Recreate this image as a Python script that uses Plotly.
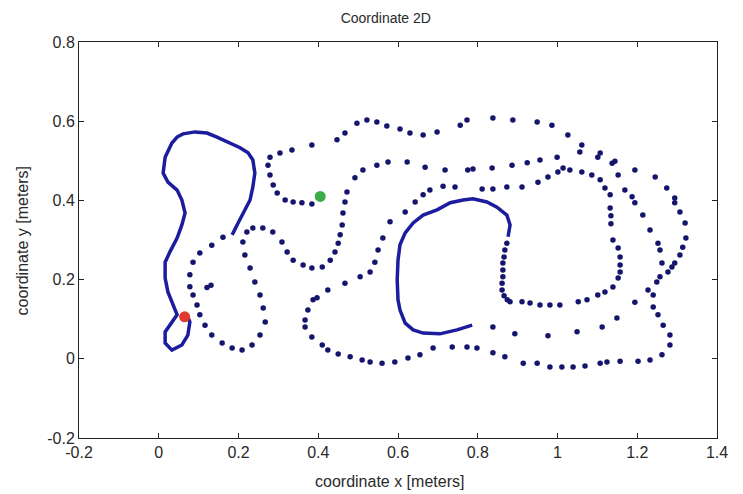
import plotly.graph_objects as go

# Dense (slow) stretch of the trajectory near the start point
left_loop_x = [0.073, 0.078, 0.073, 0.058, 0.033, 0.016, 0.016, 0.033, 0.046, 0.036, 0.023, 0.016,
               0.016, 0.028, 0.046, 0.058, 0.066, 0.058, 0.046, 0.023, 0.011, 0.016, 0.033, 0.046,
               0.061, 0.091, 0.121, 0.146, 0.174, 0.204, 0.224, 0.236, 0.241, 0.236, 0.229, 0.211,
               0.199, 0.184]
left_loop_y = [0.106, 0.093, 0.060, 0.035, 0.022, 0.040, 0.068, 0.093, 0.111, 0.136, 0.169, 0.204,
               0.244, 0.270, 0.305, 0.338, 0.368, 0.401, 0.426, 0.446, 0.469, 0.509, 0.545, 0.560,
               0.568, 0.573, 0.570, 0.560, 0.548, 0.533, 0.520, 0.502, 0.469, 0.434, 0.401, 0.368,
               0.343, 0.313]

# Dense (slow) inner loop
inner_loop_x = [0.876, 0.881, 0.873, 0.848, 0.823, 0.788, 0.763, 0.731, 0.698, 0.663, 0.638, 0.618,
                0.605, 0.600, 0.598, 0.600, 0.605, 0.618, 0.638, 0.663, 0.705, 0.748, 0.786]
inner_loop_y = [0.308, 0.338, 0.363, 0.383, 0.396, 0.404, 0.401, 0.394, 0.376, 0.363, 0.343, 0.318,
                0.288, 0.249, 0.199, 0.149, 0.123, 0.090, 0.073, 0.065, 0.063, 0.073, 0.085]

# Sparse samples of the trajectory
track_x = [0.161, 0.133, 0.103, 0.086, 0.078, 0.078, 0.086, 0.096, 0.103, 0.116, 0.133, 0.159,
           0.184, 0.209, 0.234, 0.254, 0.267, 0.262, 0.254, 0.241, 0.229, 0.216, 0.211, 0.221,
           0.236, 0.261, 0.286, 0.309, 0.322, 0.337, 0.362, 0.384, 0.410, 0.430, 0.442, 0.450,
           0.455, 0.460, 0.462, 0.467, 0.472, 0.492, 0.512, 0.547, 0.575, 0.623, 0.668, 0.718,
           0.775, 0.788, 0.836, 0.886, 0.924, 0.956, 0.999, 1.056, 1.101, 1.144, 1.152, 1.169,
           1.187, 1.194, 1.214, 1.232, 1.252, 1.257, 1.262, 1.257, 1.240, 1.240, 1.252, 1.265,
           1.282, 1.282, 1.262, 1.232, 1.202, 1.157, 1.124, 1.107, 1.069, 1.039, 1.011, 0.981,
           0.949, 0.914, 0.868, 0.838, 0.798, 0.773, 0.736, 0.688, 0.655, 0.625, 0.592, 0.560,
           0.530, 0.510, 0.480, 0.450, 0.424, 0.410, 0.384, 0.367, 0.367, 0.374, 0.387, 0.397,
           0.424, 0.467, 0.505, 0.530, 0.542, 0.550, 0.562, 0.580, 0.618, 0.643, 0.663, 0.680,
           0.713, 0.743, 0.811, 0.838, 0.873, 0.911, 0.951, 0.976, 1.001, 1.014, 1.031, 1.061,
           1.086, 1.107, 1.119, 1.132, 1.132, 1.134, 1.134, 1.139, 1.152, 1.157, 1.157, 1.157,
           1.152, 1.139, 1.119, 1.101, 1.074, 1.052, 1.006, 0.981, 0.956, 0.931, 0.911, 0.881,
           0.874, 0.866, 0.861, 0.861, 0.863, 0.863, 0.863, 0.866, 0.868, 0.873,
           0.838, 0.893, 0.976, 1.049, 1.112, 1.149, 1.194, 1.227, 1.249, 1.277, 1.287, 1.294,
           1.307, 1.314, 1.322, 1.320, 1.307, 1.294, 1.294, 1.274, 1.245, 1.194, 1.137, 1.107,
           1.061, 1.026, 0.986, 0.949, 0.888, 0.838, 0.773, 0.756, 0.698, 0.663, 0.630, 0.605,
           0.572, 0.547, 0.522, 0.497, 0.467, 0.447, 0.384, 0.334, 0.304, 0.279, 0.274, 0.279,
           0.287, 0.297, 0.317, 0.337, 0.359, 0.384,
           0.121, 0.131]
track_y = [0.307, 0.287, 0.267, 0.244, 0.212, 0.182, 0.161, 0.136, 0.111, 0.085, 0.060, 0.040,
           0.027, 0.022, 0.035, 0.060, 0.093, 0.128, 0.161, 0.194, 0.229, 0.262, 0.295, 0.320,
           0.330, 0.330, 0.320, 0.295, 0.270, 0.249, 0.237, 0.229, 0.232, 0.249, 0.270, 0.292,
           0.313, 0.338, 0.368, 0.396, 0.421, 0.457, 0.477, 0.489, 0.497, 0.497, 0.484, 0.477,
           0.477, 0.479, 0.482, 0.489, 0.495, 0.502, 0.509, 0.522, 0.509, 0.499, 0.464, 0.426,
           0.409, 0.394, 0.363, 0.325, 0.292, 0.275, 0.242, 0.207, 0.161, 0.131, 0.111, 0.085,
           0.060, 0.035, 0.010, -0.003, -0.006, -0.006, -0.008, -0.011, -0.018, -0.021, -0.021, -0.021,
           -0.011, -0.011, 0.005, 0.015, 0.027, 0.030, 0.030, 0.027, 0.010, 0.002, -0.008, -0.011,
           -0.008, -0.003, 0.005, 0.012, 0.022, 0.035, 0.055, 0.080, 0.098, 0.123, 0.149, 0.154,
           0.174, 0.191, 0.207, 0.219, 0.244, 0.275, 0.305, 0.346, 0.371, 0.396, 0.414, 0.426,
           0.436, 0.434, 0.429, 0.429, 0.434, 0.434, 0.446, 0.459, 0.472, 0.482, 0.477, 0.472,
           0.464, 0.452, 0.431, 0.414, 0.381, 0.361, 0.341, 0.300, 0.280, 0.257, 0.237, 0.219,
           0.204, 0.181, 0.169, 0.161, 0.149, 0.144, 0.136, 0.136, 0.136, 0.141, 0.144, 0.144,
           0.149, 0.159, 0.174, 0.191, 0.207, 0.224, 0.242, 0.257, 0.275, 0.292,
           0.080, 0.063, 0.058, 0.068, 0.080, 0.103, 0.143, 0.174, 0.194, 0.219, 0.232, 0.242,
           0.262, 0.282, 0.305, 0.343, 0.371, 0.394, 0.406, 0.431, 0.459, 0.477, 0.494, 0.520,
           0.540, 0.565, 0.590, 0.598, 0.603, 0.608, 0.603, 0.590, 0.573, 0.565, 0.570, 0.580,
           0.588, 0.598, 0.603, 0.595, 0.570, 0.553, 0.540, 0.527, 0.520, 0.509, 0.489, 0.464,
           0.439, 0.419, 0.401, 0.396, 0.394, 0.391,
           0.180, 0.186]

start_x = [0.065]
start_y = [0.106]
end_x = [0.405]
end_y = [0.410]

x_ticks = [-0.2, 0, 0.2, 0.4, 0.6, 0.8, 1.0, 1.2, 1.4]
x_tick_text = ["-0.2", "0", "0.2", "0.4", "0.6", "0.8", "1", "1.2", "1.4"]
y_ticks = [-0.2, 0, 0.2, 0.4, 0.6, 0.8]
y_tick_text = ["-0.2", "0", "0.2", "0.4", "0.6", "0.8"]

navy = "#1c1c9e"
font_family = "Liberation Sans, Arial, sans-serif"
text_color = "#2a2a2a"

fig = go.Figure()
fig.add_trace(go.Scatter(x=left_loop_x, y=left_loop_y, mode="lines",
                         line=dict(color=navy, width=3.5), hoverinfo="skip"))
fig.add_trace(go.Scatter(x=inner_loop_x, y=inner_loop_y, mode="lines",
                         line=dict(color=navy, width=3.5), hoverinfo="skip"))
fig.add_trace(go.Scatter(x=track_x, y=track_y, mode="markers",
                         marker=dict(color="#15156e", size=5.5, symbol="circle")))
fig.add_trace(go.Scatter(x=start_x, y=start_y, mode="markers",
                         marker=dict(color="#e03a2e", size=11)))
fig.add_trace(go.Scatter(x=end_x, y=end_y, mode="markers",
                         marker=dict(color="#3aad48", size=11)))

axis_common = dict(
    showgrid=False, zeroline=False, showline=True, linecolor="#222", linewidth=1,
    mirror="ticks", ticks="inside", ticklen=5, tickcolor="#222",
    tickfont=dict(family=font_family, size=16, color=text_color),
)

fig.update_layout(
    width=735, height=486,
    margin=dict(l=71, r=26, t=34, b=56),
    paper_bgcolor="white", plot_bgcolor="white",
    showlegend=False,
    title=dict(text="Coordinate 2D", x=0.514, xanchor="center", y=0.979, yanchor="middle",
               font=dict(family=font_family, size=14, color=text_color)),
    xaxis=dict(range=[-0.2, 1.4], tickvals=x_ticks, ticktext=x_tick_text,
               automargin=False, **axis_common),
    yaxis=dict(range=[-0.2, 0.8], tickvals=y_ticks, ticktext=y_tick_text,
               automargin=False, **axis_common),
    annotations=[
        dict(text="coordinate x [meters]", xref="paper", yref="paper", x=0.486, y=-0.109,
             xanchor="center", yanchor="middle", showarrow=False,
             font=dict(family=font_family, size=16, color=text_color)),
        dict(text="coordinate y [meters]", xref="paper", yref="paper", x=-0.089, y=0.497,
             xanchor="center", yanchor="middle", showarrow=False, textangle=-90,
             font=dict(family=font_family, size=16, color=text_color)),
    ],
)

fig.write_html("out.html")
